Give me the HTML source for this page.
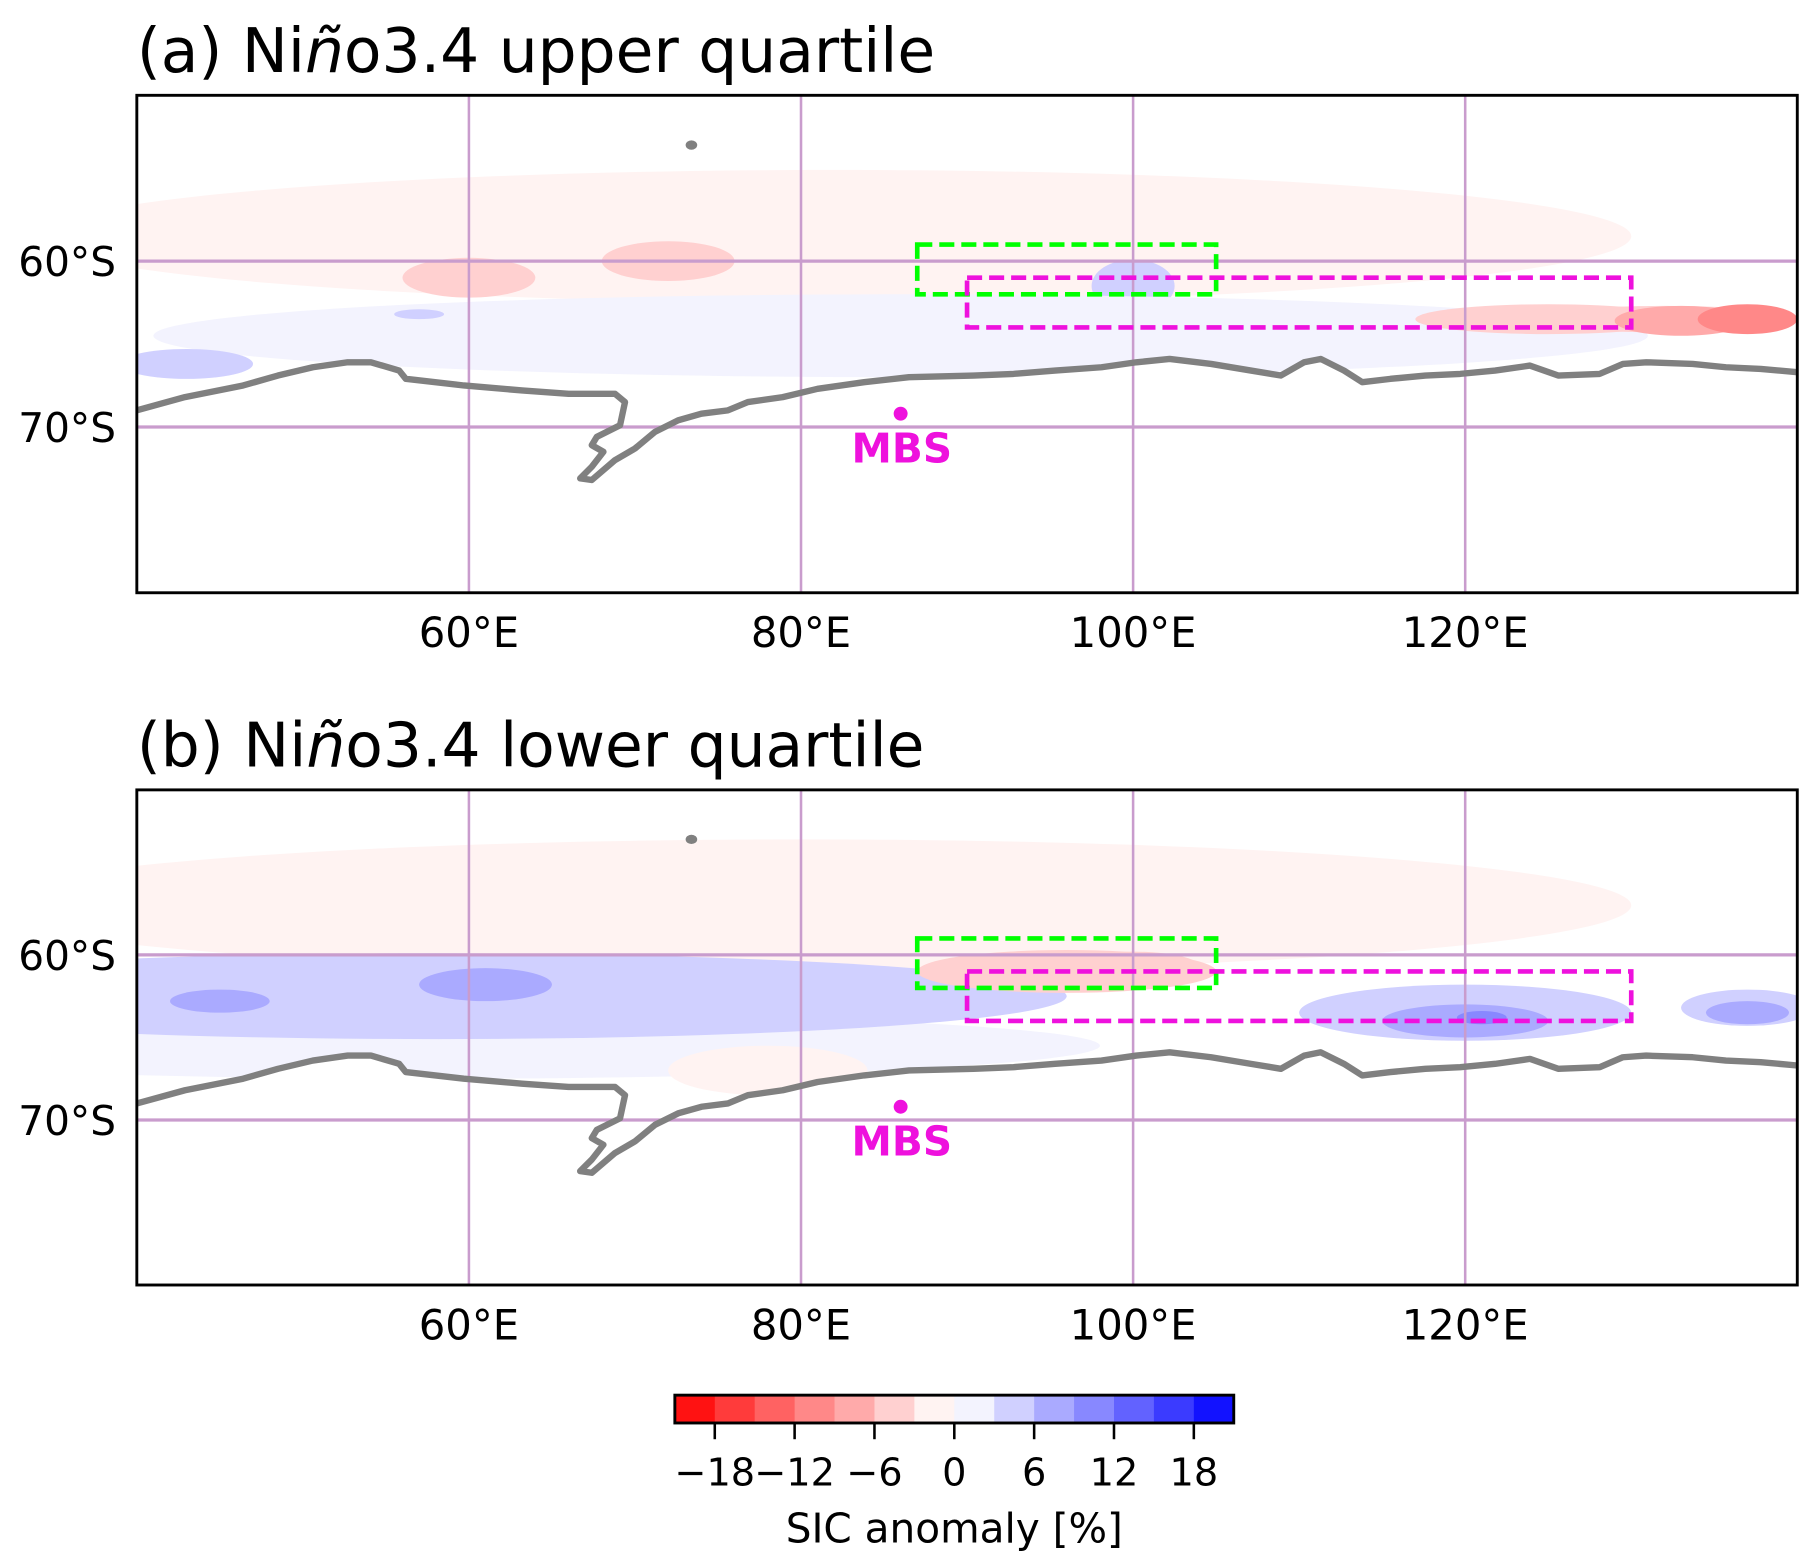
<!DOCTYPE html>
<html><head><meta charset="utf-8"><style>
html,body{margin:0;padding:0;background:#fff}
svg{display:block}
text{font-family:"DejaVu Sans","Liberation Sans",sans-serif}
</style></head><body>
<svg id="fig" width="1817" height="1567" viewBox="0 0 1567 1351" xmlns="http://www.w3.org/2000/svg">
<defs>
<clipPath id="clipA"><rect x="118" y="82" width="1432" height="429"/></clipPath>
<clipPath id="clipB"><rect x="118" y="681" width="1432" height="427"/></clipPath>
</defs>
</svg>
<script>
// ---- data ----
const levels=[-21,-18,-15,-12,-9,-6,-3,0,3,6,9,12,15,18,21];
const levelColors=['#ff1212','#ff3b3b','#ff6262','#ff8888','#ffaaaa','#ffd0d0','#fff3f2','#f3f3fe','#d0d0ff','#aaaaff','#8888ff','#6262ff','#3b3bff','#1212ff'];
const cbTicks=[-18,-12,-6,0,6,12,18];
const lonTicks=[60,80,100,120];
const latTicks=[60,70];
// blobs: [lon, lat(S), halfWidthLon, halfHeightLat, value]
const fieldA_lon=[82,60,72,100,86,95,125,43,57,132,133,137];
const fieldA_lat=[58.5,61,60,61.5,64.5,65,63.5,66.2,63.2,63.5,63.6,63.5];
const fieldA_w=[48,4,4,2.5,45,10,8,4,1.5,8,4,3];
const fieldA_h=[4,1.2,1.2,1.6,2.5,1.5,0.9,0.9,0.3,0.8,0.9,0.9];
const fieldA_v=[-1,-4,-4,4,1,1,-4,4,4,-4,-7,-10];
const fieldB_lon=[80,58,58,45,61,78,96,100,120,120,121,137,137];
const fieldB_lat=[57,65.5,62.5,62.8,61.8,67,61,60.7,63.5,64,63.8,63.2,63.5];
const fieldB_w=[50,40,38,3,4,6,9,4,10,5,1.5,4,2.5];
const fieldB_h=[4,2,2.6,0.7,1,1.5,1.3,0.9,1.7,1,0.4,1.1,0.7];
const fieldB_v=[-1,1,4,7,7,-1,-4,-4,4,7,10,4,7];
// coastline (lon, lat S)
const coastLon=[40,42.9,46.4,48.5,50.6,52.7,54.1,55.8,56.2,59.7,63.2,66.0,68.8,69.4,69.1,67.7,67.4,68.1,67.4,66.7,67.4,68.8,70.0,71.2,72.6,74.0,75.6,76.8,78.9,81.0,83.8,86.5,90.4,92.8,95.3,98.1,100.2,102.2,104.7,107.1,108.9,110.3,111.3,112.7,113.8,115.5,117.6,119.7,121.8,123.9,125.6,128.1,129.5,130.9,133.7,135.7,137.8,140];
const coastLat=[69.0,68.2,67.5,66.9,66.4,66.1,66.1,66.6,67.1,67.5,67.8,68.0,68.0,68.5,69.9,70.6,71.1,71.5,72.4,73.1,73.2,72.0,71.3,70.3,69.6,69.2,69.0,68.5,68.2,67.7,67.3,67.0,66.9,66.8,66.6,66.4,66.1,65.9,66.2,66.6,66.9,66.1,65.9,66.6,67.3,67.1,66.9,66.8,66.6,66.3,66.9,66.8,66.2,66.1,66.2,66.4,66.5,66.7];
const greenBox=[87,105,59,62];
const magentaBox=[90,130,61,64];
const mbs=[86,69.2];

const NS='http://www.w3.org/2000/svg';
const svg=document.getElementById('fig');
function mk(tag,attrs,parent){const e=document.createElementNS(NS,tag);for(const k in attrs)e.setAttribute(k,attrs[k]);(parent||svg).appendChild(e);return e;}
function colorFor(v){for(let i=0;i<levelColors.length;i++){if(v<levels[i+1])return levelColors[i];}return levelColors[levelColors.length-1];}

function panel(top,bottom,clipId,fl,fa,fw,fh,fv,title,key){
  const L=118,R=1550;
  const X=lon=>L+(lon-40)/100*(R-L);
  const Y=lat=>top+(lat-50)/30*(bottom-top);
  const g=mk('g',{'clip-path':'url(#'+clipId+')'});
  
  
  for(let i=0;i<fl.length;i++){
    if(fw[i]<=0)continue;
    const e=mk('ellipse',{cx:X(fl[i]),cy:Y(fa[i]),rx:fw[i]/100*(R-L),ry:fh[i]/30*(bottom-top),fill:colorFor(fv[i])},g);
    
    
  }
  let d='M'+X(coastLon[0])+','+Y(coastLat[0]);
  for(let i=1;i<coastLon.length;i++)d+=' L'+X(coastLon[i])+','+Y(coastLat[i]);
  const land=mk('path',{d:d+' L'+R+','+bottom+' L'+L+','+bottom+' Z',fill:'#fff'},g);
  
  
  lonTicks.forEach(t=>{const l=mk('line',{x1:X(t),x2:X(t),y1:top,y2:bottom,stroke:'#c99ccd','stroke-width':2.2},g);
    });
  latTicks.forEach(t=>{const l=mk('line',{x1:L,x2:R,y1:Y(t),y2:Y(t),stroke:'#c99ccd','stroke-width':2.8},g);
    });
  const c=mk('path',{d:d,fill:'none',stroke:'#808080','stroke-width':5.5,'stroke-linejoin':'round'},g);
  
  
  const isl=mk('ellipse',{cx:X(73.4),cy:Y(53),rx:5,ry:4,fill:'#808080'},g);
  
  
  const gb=mk('rect',{x:X(greenBox[0]),y:Y(greenBox[2]),width:X(greenBox[1])-X(greenBox[0]),height:Y(greenBox[3])-Y(greenBox[2]),fill:'none',stroke:'#00ff00','stroke-width':4,'stroke-dasharray':'13,6'},g);
  
  
  const mb=mk('rect',{x:X(magentaBox[0]),y:Y(magentaBox[2]),width:X(magentaBox[1])-X(magentaBox[0]),height:Y(magentaBox[3])-Y(magentaBox[2]),fill:'none',stroke:'#ee11dd','stroke-width':4,'stroke-dasharray':'13,6'},g);
  
  
  const dot=mk('circle',{cx:X(mbs[0]),cy:Y(mbs[1]),r:6,fill:'#ee11dd'},g);
  
  
  const mt=mk('text',{x:X(mbs[0])+1,y:Y(mbs[1])+42,'font-size':35,'font-weight':'bold',fill:'#ee11dd','text-anchor':'middle'},g);
  mt.textContent='MBS';
  
  
  const fr=mk('rect',{x:L,y:top,width:R-L,height:bottom-top,fill:'none',stroke:'#000','stroke-width':2.5});
  
  
  lonTicks.forEach(t=>{const tx=mk('text',{x:X(t),y:bottom+47,'font-size':36,'text-anchor':'middle'});tx.textContent=t+'°E';
    });
  latTicks.forEach(t=>{const tx=mk('text',{x:100,y:Y(t)+13,'font-size':35,'text-anchor':'end'});tx.textContent=t+'°S';
    });
  const tt=mk('text',{x:118,y:top-20,'font-size':53});
  tt.innerHTML=title;
  
  
}
panel(82,511,'clipA',fieldA_lon,fieldA_lat,fieldA_w,fieldA_h,fieldA_v,'(a) Ni<tspan font-style="italic">ñ</tspan>o3.4 upper quartile','panel-a');
panel(681,1108,'clipB',fieldB_lon,fieldB_lat,fieldB_w,fieldB_h,fieldB_v,'(b) Ni<tspan font-style="italic">ñ</tspan>o3.4 lower quartile','panel-b');

// colorbar
const cbL=582,cbR=1064,cbT=1203,cbB=1227;
const CX=v=>cbL+(v-levels[0])/(levels[levels.length-1]-levels[0])*(cbR-cbL);
for(let i=0;i<levelColors.length;i++){
  const r=mk('rect',{x:CX(levels[i]),y:cbT,width:CX(levels[i+1])-CX(levels[i])+0.5,height:cbB-cbT,fill:levelColors[i]});
  
  
}
const cbf=mk('rect',{x:cbL,y:cbT,width:cbR-cbL,height:cbB-cbT,fill:'none',stroke:'#000','stroke-width':2.5});


cbTicks.forEach(t=>{
  const l=mk('line',{x1:CX(t),x2:CX(t),y1:cbB,y2:cbB+14,stroke:'#000','stroke-width':2.2});
  
  
  const tx=mk('text',{x:CX(t),y:1281,'font-size':33,'text-anchor':'middle'});
  tx.textContent=(t<0?'\u2212':'')+Math.abs(t);
  
  
});
const cl=mk('text',{x:823,y:1330,'font-size':35,'text-anchor':'middle'});
cl.textContent='SIC anomaly [%]';


</script>
</body></html>
